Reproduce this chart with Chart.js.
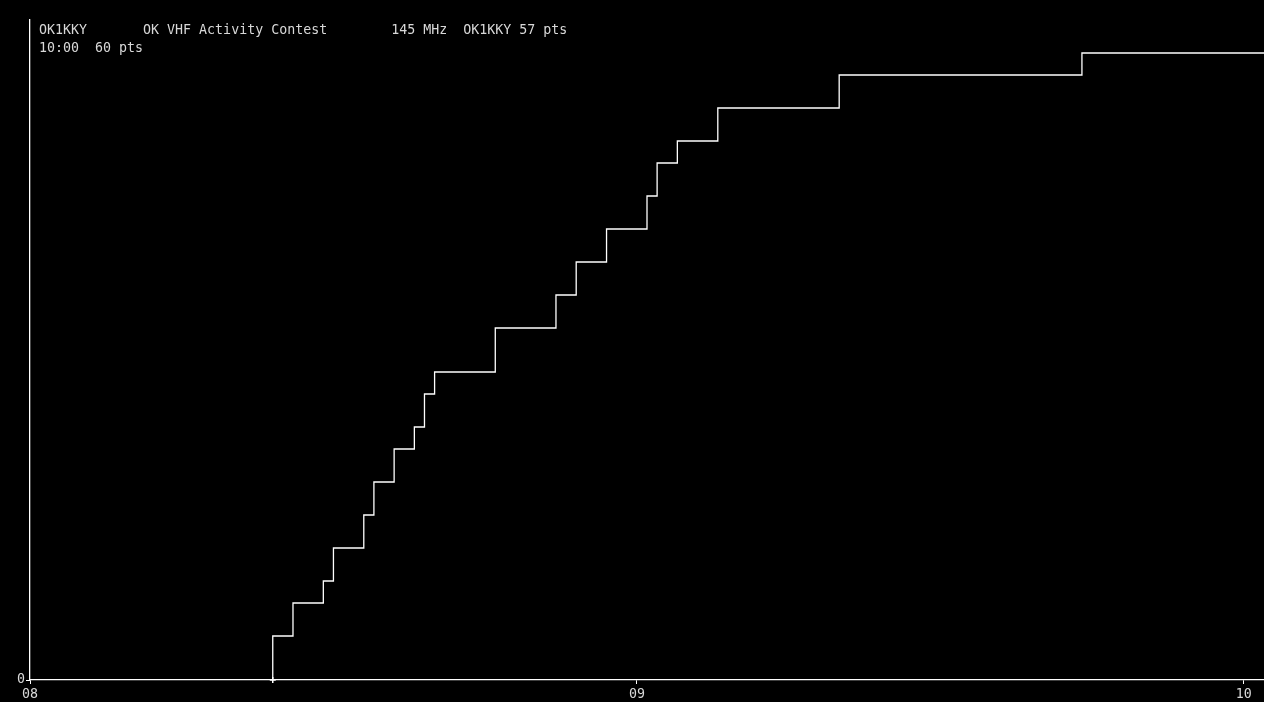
<!DOCTYPE html>
<html>
<head>
<meta charset="utf-8">
<script src="https://cdn.jsdelivr.net/npm/chart.js@4/dist/chart.umd.min.js"></script>
<style>
  html, body { margin: 0; padding: 0; background: #000; overflow: hidden; }
  #wrap { position: relative; width: 1264px; height: 702px; }
  canvas { position: absolute; left: 0; top: 0; }
  .hdr {
    position: absolute; left: 39px; margin: 0;
    font-family: "DejaVu Sans Mono", monospace; font-size: 13.3px;
    color: #d8d8d8; white-space: pre; line-height: 18px;
  }
</style>
</head>
<body>
<div id="wrap">
  <canvas id="chart1" width="1264" height="702"></canvas>
  <pre class="hdr" style="top:21px">OK1KKY       OK VHF Activity Contest        145 MHz  OK1KKY 57 pts
10:00  60 pts</pre>
</div>
<script>
// minutes after 08:00 and cumulative points
const minutes = [24, 24, 26, 29, 30, 33, 34, 36, 38, 39, 40, 46, 52, 54, 57, 61, 62, 64, 68, 80, 104, 122];
const points  = [0, 4, 7, 9, 12, 15, 18, 21, 23, 26, 28, 32, 35, 38, 41, 44, 47, 49, 52, 55, 57, 57];

const tickValues = [0, 60, 120];
const tickLabels = ['08', '09', '10'];

const tickFont = { family: 'DejaVu Sans Mono', size: 13.3 };

function createChart() {
    const ctx = document.getElementById('chart1');
    new Chart(ctx, {
        type: 'scatter',
        data: {
            datasets: [{
                data: minutes.map((m, i) => ({ x: m, y: points[i] })),
                showLine: true,
                stepped: 'before',
                clip: false,
                borderColor: '#ffffff',
                borderWidth: 1.3,
                pointStyle: 'cross',
                pointRadius: c => c.dataIndex === 0 ? 3 : 0,
                pointBorderColor: '#ffffff',
                pointBorderWidth: 1.5
            }]
        },
        options: {
            responsive: false,
            animation: false,
            devicePixelRatio: 1,
            layout: { autoPadding: false, padding: { top: 20, right: 0, left: 0, bottom: 0 } },
            plugins: { legend: { display: false }, tooltip: { enabled: false } },
            scales: {
                x: {
                    type: 'linear',
                    min: 0,
                    max: 122,
                    afterBuildTicks: s => { s.ticks = tickValues.map(v => ({ value: v })); },
                    afterFit: s => { s.height = 22; },
                    border: { color: '#ffffff', width: 1.3 },
                    grid: { drawOnChartArea: false, color: '#ffffff', tickLength: 4 },
                    ticks: {
                        color: '#d8d8d8',
                        font: tickFont,
                        padding: 3,
                        maxRotation: 0,
                        autoSkip: false,
                        callback: v => tickLabels[tickValues.indexOf(v)]
                    }
                },
                y: {
                    min: 0,
                    max: 60,
                    afterBuildTicks: s => { s.ticks = [{ value: 0 }]; },
                    afterFit: s => { s.width = 30; },
                    border: { color: '#ffffff', width: 1.3 },
                    grid: { drawOnChartArea: false, color: '#ffffff', tickLength: 4 },
                    ticks: { color: '#d8d8d8', font: tickFont, padding: 1 }
                }
            }
        }
    });
}
createChart();
</script>
</body>
</html>
